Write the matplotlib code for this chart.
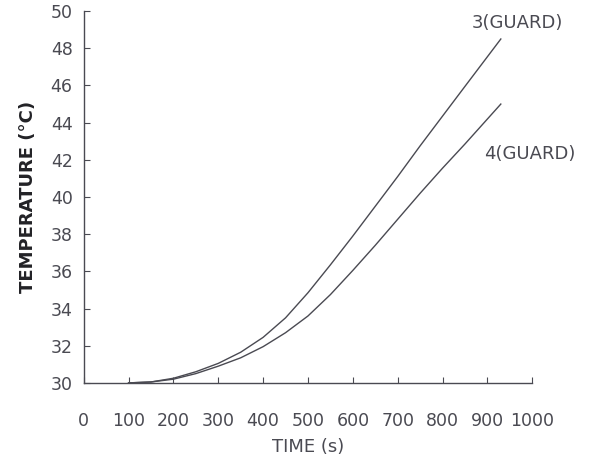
import matplotlib
matplotlib.use("Agg")
import matplotlib.pyplot as plt

# =========================
# DATA
# =========================

time_s = [100, 150, 200, 250, 300, 350, 400, 450, 500, 550,
          600, 650, 700, 750, 800, 850, 930]
guard3 = [30.0, 30.05, 30.25, 30.6, 31.05, 31.65, 32.45, 33.5, 34.85, 36.35,
          37.9, 39.5, 41.1, 42.75, 44.35, 45.95, 48.5]
guard4 = [30.0, 30.05, 30.2, 30.5, 30.9, 31.35, 31.95, 32.7, 33.6, 34.75,
          36.05, 37.4, 38.8, 40.2, 41.55, 42.85, 45.0]

x_ticks = list(range(0, 1001, 100))
y_ticks = list(range(30, 51, 2))

ink = "#4a4a52"
plt.rcParams["font.family"] = ["DejaVu Sans"]

# =========================
# PLOT
# =========================

fig = plt.figure(figsize=(5.98, 4.63), dpi=100)
ax = fig.add_axes([0.140, 0.173, 0.750, 0.803])

ax.plot(time_s, guard3, color=ink, lw=1.0, solid_joinstyle="round")
ax.plot(time_s, guard4, color=ink, lw=1.0, solid_joinstyle="round")

ax.text(967, 49.35, "3(GUARD)", ha="center", va="center",
        fontsize=13, color=ink, clip_on=False)
ax.text(995, 42.3, "4(GUARD)", ha="center", va="center",
        fontsize=13, color=ink, clip_on=False)

ax.set_xlim(0, 1000)
ax.set_ylim(30, 50)
ax.set_xticks(x_ticks)
ax.set_yticks(y_ticks)

for side in ["top", "right"]:
    ax.spines[side].set_visible(False)
for side in ["left", "bottom"]:
    ax.spines[side].set_color(ink)
    ax.spines[side].set_linewidth(1.0)

ax.tick_params(axis="x", direction="in", length=4, pad=21,
               labelsize=12.5, colors=ink)
ax.tick_params(axis="y", direction="in", length=4, pad=8,
               labelsize=12.5, colors=ink)

ax.set_xlabel("TIME (s)", fontsize=13, color=ink, labelpad=6)
ax.set_ylabel("TEMPERATURE (°C)", fontsize=13, color="#222226",
              fontweight="bold", labelpad=10)

fig.savefig("out.png", dpi=100)
